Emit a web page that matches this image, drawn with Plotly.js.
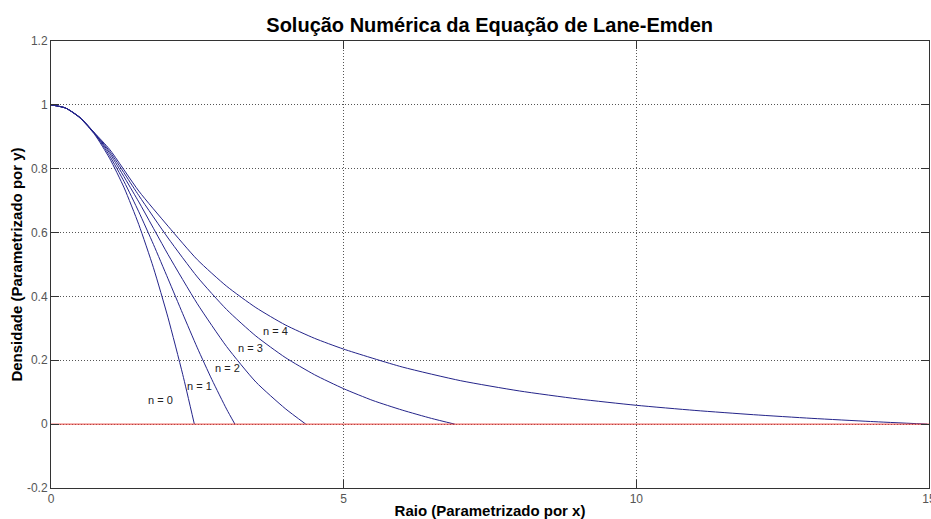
<!DOCTYPE html>
<html>
<head>
<meta charset="utf-8">
<script src="https://cdn.plot.ly/plotly-3.0.1.min.js"></script>
<style>html,body{margin:0;padding:0;background:#fff;}#chart{width:931px;height:519px;}</style>
</head>
<body>
<div id="chart"></div>
<script>
// Lane-Emden solutions
const x0 = [0, 0.25, 0.5, 0.75, 1.0, 1.25, 1.5, 1.75, 2.0, 2.25, 2.449];
const y0 = [1, 0.990, 0.958, 0.906, 0.833, 0.740, 0.625, 0.490, 0.333, 0.156, 0];

const x1 = [0, 0.25, 0.5, 0.75, 1.0, 1.25, 1.5, 1.75, 2.0, 2.25, 2.5, 2.75, 3.0, 3.1416];
const y1 = [1, 0.990, 0.959, 0.909, 0.841, 0.759, 0.665, 0.563, 0.455, 0.346, 0.239, 0.139, 0.047, 0];

const x2 = [0, 0.25, 0.5, 0.75, 1.0, 1.5, 2.0, 2.5, 3.0, 3.5, 4.0, 4.3529];
const y2 = [1, 0.990, 0.959, 0.909, 0.849, 0.696, 0.531, 0.377, 0.243, 0.132, 0.049, 0];

const x3 = [0, 0.25, 0.5, 0.75, 1.0, 1.5, 2.0, 2.5, 3.0, 3.5, 4.0, 4.5, 5.0, 5.5, 6.0, 6.5, 6.8968];
const y3 = [1, 0.990, 0.960, 0.910, 0.855, 0.716, 0.583, 0.461, 0.359, 0.276, 0.209, 0.155, 0.111, 0.074, 0.044, 0.018, 0];

const x4 = [0, 0.25, 0.5, 0.75, 1.0, 1.5, 2.0, 2.5, 3.0, 3.5, 4.0, 4.5, 5.0, 6.0, 7.0, 8.0, 9.0, 10.0, 11.0, 12.0, 13.0, 14.0, 14.9715];
const y4 = [1, 0.990, 0.960, 0.911, 0.861, 0.730, 0.620, 0.515, 0.432, 0.365, 0.311, 0.269, 0.235, 0.179, 0.136, 0.104, 0.079, 0.059, 0.043, 0.0296, 0.0181, 0.0083, 0];

const zeroX = [0, 15];
const zeroY = [0, 0];

const labelText = ["n = 0", "n = 1", "n = 2", "n = 3", "n = 4"];
const labelX = [1.87, 2.54, 3.02, 3.41, 3.84];
const labelY = [0.077, 0.121, 0.176, 0.2375, 0.293];

const xTicks = [0, 5, 10, 15];
const yTicks = [-0.2, 0, 0.2, 0.4, 0.6, 0.8, 1, 1.2];
const yTickText = ["-0.2", "0", "0.2", "0.4", "0.6", "0.8", "1", "1.2"];

const FONT = "Liberation Sans, Arial, sans-serif";
const curveColor = "#24248a";
const curves = [[x0, y0], [x1, y1], [x2, y2], [x3, y3], [x4, y4]];
const traces = curves.map(c => ({
  x: c[0], y: c[1], type: "scatter", mode: "lines",
  line: {color: curveColor, width: 1, shape: "spline", smoothing: 0.6},
  hoverinfo: "skip", showlegend: false
}));
traces.push({x: zeroX, y: zeroY, type: "scatter", mode: "lines",
  line: {color: "#e8403c", width: 1}, showlegend: false, hoverinfo: "skip"});

const annotations = labelText.map((t, i) => ({
  x: labelX[i], y: labelY[i], xref: "x", yref: "y", text: t, showarrow: false,
  font: {family: FONT, size: 11, color: "#222"},
  xanchor: "center", yanchor: "middle"
}));

const axisCommon = {
  showline: true, linecolor: "#333", linewidth: 1, mirror: "ticks",
  ticks: "inside", ticklen: 8, tickcolor: "#333", tickwidth: 1,
  showgrid: true, gridcolor: "#555", gridwidth: 1, griddash: "1px,2px",
  zeroline: false, ticklabeloverflow: "allow",
  tickfont: {family: FONT, size: 12, color: "#555"}
};

const layout = {
  width: 931, height: 519,
  margin: {l: 51, r: 2, t: 41, b: 31},
  paper_bgcolor: "#fff", plot_bgcolor: "#fff",
  title: {text: "Solução Numérica da Equação de Lane-Emden",
    font: {family: FONT, size: 20, color: "#000", weight: "bold"},
    x: 0.526, xanchor: "center", y: 0.952, yanchor: "middle"},
  xaxis: Object.assign({}, axisCommon, {
    range: [0, 15], tickvals: xTicks, ticktext: xTicks.map(String),
    title: {text: "Raio (Parametrizado por x)", standoff: 2,
      font: {family: FONT, size: 15, color: "#000", weight: "bold"}}
  }),
  yaxis: Object.assign({}, axisCommon, {
    range: [-0.2, 1.2], tickvals: yTicks, ticktext: yTickText,
    title: {text: "Densidade (Parametrizado por y)", standoff: 0,
      font: {family: FONT, size: 15, color: "#000", weight: "bold"}}
  }),
  annotations: annotations
};

Plotly.newPlot("chart", traces, layout, {staticPlot: true, displayModeBar: false});
</script>
</body>
</html>
